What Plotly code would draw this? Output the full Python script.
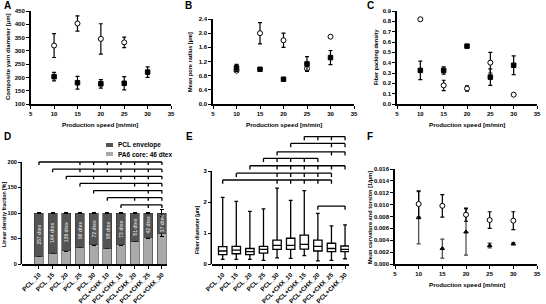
import plotly.graph_objects as go

W, H = 546, 304
FONT = "Liberation Sans, Arial, sans-serif"

speed = [10, 15, 20, 25, 30]
speed_ticks = [5, 10, 15, 20, 25, 30, 35]

# Panel A: composite yarn diameter [um]
a_open_x = [10, 15, 20, 25]
a_open = [320, 403, 345, 332]
a_open_err = [45, 29, 57, 20]
a_fill = [203, 180, 176, 178, 220]
a_fill_err = [16, 24, 16, 25, 20]

# Panel B: mean pore radius [um]
b_open = [0.94, 2.00, 1.80, 1.00, 1.90]
b_open_err = [0.0, 0.30, 0.20, 0.08, 0.0]
b_fill = [1.02, 0.98, 0.70, 1.13, 1.31]
b_fill_err = [0.10, 0.0, 0.0, 0.21, 0.20]

# Panel C: fiber packing density
c_open = [0.82, 0.18, 0.15, 0.40, 0.09]
c_open_err = [0.0, 0.05, 0.025, 0.10, 0.0]
c_fill = [0.325, 0.325, 0.56, 0.26, 0.375]
c_fill_err = [0.09, 0.035, 0.0, 0.08, 0.09]

# Panel D: linear density fraction [%]
groups = ["PCL_10", "PCL_15", "PCL_20", "PCL_25", "PCL_30",
          "PCL+CHX_10", "PCL+CHX_15", "PCL+CHX_20", "PCL+CHX_25", "PCL+CHX_30"]
d_core = [15, 21, 26, 33, 38, 31, 38, 45, 52, 60]
d_env = [85, 79, 74, 67, 62, 69, 62, 55, 48, 40]
d_core_err = [1, 1, 1, 1, 1, 1, 1, 1.5, 2, 6]
d_env_err = [1, 1, 1, 1, 1, 1, 1, 1, 1.5, 7]
d_dtex = ["257 dtex", "164 dtex", "126 dtex", "90 dtex", "72 dtex",
          "98 dtex", "73 dtex", "51 dtex", "42 dtex", "37 dtex"]
d_legend = ["PCL envelope", "PA6 core: 46 dtex"]
# significance brackets: (level, first group, groups marked)
d_brackets = [
    (200, 0, [3, 4, 5, 6, 7, 8, 9]),
    (186, 1, [3, 4, 5, 6, 7, 8, 9]),
    (172, 2, [4, 6, 7, 8, 9]),
    (158, 3, [7, 8, 9]),
    (144, 4, [8, 9]),
    (130, 5, [7, 8, 9]),
    (116, 6, [8, 9]),
]

# Panel E: fiber diameter box plots [um]
e_low = [0.15, 0.15, 0.15, 0.12, 0.20, 0.18, 0.27, 0.10, 0.12, 0.17]
e_q1 = [0.30, 0.33, 0.30, 0.35, 0.47, 0.47, 0.48, 0.42, 0.40, 0.40]
e_med = [0.42, 0.45, 0.40, 0.47, 0.60, 0.60, 0.63, 0.57, 0.50, 0.47]
e_q3 = [0.56, 0.57, 0.50, 0.57, 0.77, 0.83, 0.93, 0.77, 0.67, 0.58]
e_high = [2.15, 2.02, 1.70, 1.78, 2.45, 2.05, 2.37, 1.63, 1.23, 1.26]
e_brackets = [
    (4.11, 6, [7, 8, 9]),
    (3.89, 5, [8, 9]),
    (3.62, 4, [8, 9]),
    (3.41, 3, [4, 5, 6, 7]),
    (3.17, 2, [4, 5, 6, 7, 8, 9]),
    (2.93, 1, [4, 5, 6, 7, 8]),
    (2.71, 0, [4, 5, 6, 7, 8]),
    (1.87, 7, [9]),
]

# Panel F: mean curvature and torsion [1/um]
f_curv = [0.0101, 0.0098, 0.0083, 0.0074, 0.0073]
f_curv_err = [0.0022, 0.0019, 0.0011, 0.0014, 0.0015]
f_tors = [0.0078, 0.0026, 0.0054, 0.0031, 0.0034]
f_tors_err = [0.0044, 0.0016, 0.0039, 0.0004, 0.0002]


def px(x):
    return x / W


def py(y):
    return 1 - y / H


def scat(x, y, err, ax, symbol, fill, size=5, errcolor="black"):
    return go.Scatter(
        x=x, y=y, mode="markers", xaxis="x" + ax, yaxis="y" + ax,
        marker=dict(symbol=symbol, size=size, color=fill,
                    line=dict(color="black", width=1)),
        error_y=dict(type="data", array=err, visible=True, color=errcolor,
                     thickness=1.2, width=2),
        cliponaxis=False, showlegend=False)


fig = go.Figure()

# A
fig.add_trace(scat(a_open_x, a_open, a_open_err, "", "circle", "white"))
fig.add_trace(scat(speed, a_fill, a_fill_err, "", "square", "black", size=4.5))
# B
fig.add_trace(scat(speed, b_open, b_open_err, "2", "circle", "white"))
fig.add_trace(scat(speed, b_fill, b_fill_err, "2", "square", "black", size=4.5))
# C
fig.add_trace(scat(speed, c_open, c_open_err, "3", "circle", "white"))
fig.add_trace(scat(speed, c_fill, c_fill_err, "3", "square", "black", size=4.5))
# F
fig.add_trace(scat(speed, f_tors, f_tors_err, "6", "triangle-up", "black", size=4, errcolor="#444"))
fig.add_trace(scat(speed, f_curv, f_curv_err, "6", "circle", "white"))

# D bars
gx = list(range(len(groups)))
CORE_C, ENV_C = "#a9a9a9", "#545454"
fig.add_trace(go.Bar(
    x=gx, y=d_core, width=0.66, xaxis="x4", yaxis="y4",
    marker=dict(color=CORE_C, line=dict(color="#333", width=0.6)),
    error_y=dict(type="data", array=d_core_err, visible=True, color="black",
                 thickness=1, width=2), showlegend=False))
fig.add_trace(go.Bar(
    x=gx, y=d_env, width=0.66, xaxis="x4", yaxis="y4",
    marker=dict(color=ENV_C, line=dict(color="#333", width=0.6)),
    error_y=dict(type="data", array=d_env_err, visible=True, color="black",
                 thickness=1, width=2), showlegend=False))

# E boxes
fig.add_trace(go.Box(
    x=gx, q1=e_q1, median=e_med, q3=e_q3, lowerfence=e_low, upperfence=e_high,
    xaxis="x5", yaxis="y5", fillcolor="white",
    line=dict(color="black", width=1.3), width=0.62, whiskerwidth=0.45,
    boxpoints=False, showlegend=False))

# domains in pixels
dom = {
    "": ((30.7, 171), (11, 104)),
    "2": ((213, 354), (19, 104)),
    "3": ((397, 537), (11, 104)),
    "4": ((22, 167), (159.45, 264)),
    "5": ((212, 349), (132.25, 264)),
    "6": ((395, 537), (169, 264)),
}


def axis_base(**kw):
    d = dict(showline=True, linecolor="black", linewidth=1.5, ticks="outside",
             ticklen=3, tickwidth=1.2, tickcolor="black", showgrid=False,
             zeroline=False, automargin=False,
             tickfont=dict(size=6, family=FONT, color="black", weight="bold"))
    d.update(kw)
    return d


layout = dict(
    width=W, height=H, margin=dict(l=0, r=0, t=0, b=0),
    paper_bgcolor="white", plot_bgcolor="white", showlegend=False,
    barmode="stack", font=dict(family=FONT, size=6, color="black", weight="bold"),
)

rngs = {
    "": ((5, 35), (100, 450), list(range(100, 451, 50)), None),
    "2": ((5, 35), (0, 2.4), [0, 0.4, 0.8, 1.2, 1.6, 2.0, 2.4], ".1f"),
    "3": ((5, 35), (0, 0.9), [i / 10 for i in range(10)], ".1f"),
    "6": ((5, 35), (0, 0.016), [i * 0.002 for i in range(9)], ".3f"),
}
for k, (xr, yr, yt, fmt) in rngs.items():
    (x0, x1), (y0, y1) = dom[k]
    layout["xaxis" + k] = axis_base(domain=[px(x0), px(x1)], range=list(xr),
                                    tickvals=speed_ticks, anchor="y" + k)
    ya = axis_base(domain=[py(y1), py(y0)], range=list(yr), tickvals=yt,
                   anchor="x" + k)
    if fmt:
        ya["tickformat"] = fmt
    layout["yaxis" + k] = ya

# D axes
(x0, x1), (y0, y1) = dom["4"]
layout["xaxis4"] = axis_base(domain=[px(x0), px(x1)], range=[-1.24, 9.37],
                             tickvals=gx, ticktext=groups, tickangle=-45,
                             anchor="y4",
                             tickfont=dict(size=6.3, family=FONT, color="black", weight="bold"))
layout["yaxis4"] = axis_base(domain=[py(y1), py(y0)], range=[0, 205],
                             tickvals=[0, 50, 100, 150, 200], anchor="x4",
                             showline=False,
                             tickfont=dict(size=5.6, family=FONT, color="black", weight="bold"))
# E axes
(x0, x1), (y0, y1) = dom["5"]
layout["xaxis5"] = axis_base(domain=[px(x0), px(x1)], range=[-0.787, 9.29],
                             tickvals=gx, ticktext=groups, tickangle=-45,
                             anchor="y5",
                             tickfont=dict(size=6.3, family=FONT, color="black", weight="bold"))
layout["yaxis5"] = axis_base(domain=[py(y1), py(y0)], range=[0, 4.25],
                             tickvals=[0, 1, 2, 3], anchor="x5", showline=False)

shapes = []
# manual y-axis lines for D and E
shapes.append(dict(type="line", xref="paper", yref="y4", x0=px(22) - 0.75 / W,
                   x1=px(22) - 0.75 / W, y0=0, y1=200,
                   line=dict(color="black", width=1.5)))
shapes.append(dict(type="line", xref="paper", yref="y5", x0=px(212) - 0.75 / W,
                   x1=px(212) - 0.75 / W, y0=0, y1=3,
                   line=dict(color="black", width=1.5)))


def brackets(lst, ax, drop):
    out = []
    for lvl, start, marks in lst:
        end = max(marks)
        ln = dict(color="black", width=1.3)
        out.append(dict(type="line", xref="x" + ax, yref="y" + ax,
                        x0=start, x1=end, y0=lvl, y1=lvl, line=ln))
        for m in [start] + marks:
            out.append(dict(type="line", xref="x" + ax, yref="y" + ax,
                            x0=m, x1=m, y0=lvl, y1=lvl - drop, line=ln))
    return out


shapes += brackets(d_brackets, "4", 6)
shapes += brackets(e_brackets, "5", 0.12)

# D legend swatches
shapes.append(dict(type="rect", xref="paper", yref="paper", x0=px(106), x1=px(113),
                   y0=py(147), y1=py(143), fillcolor=ENV_C, line=dict(width=0)))
shapes.append(dict(type="rect", xref="paper", yref="paper", x0=px(106), x1=px(113),
                   y0=py(156), y1=py(152), fillcolor=CORE_C, line=dict(width=0)))
layout["shapes"] = shapes


def ann(text, x, y, size, angle=0, xanchor="center", color="black", **kw):
    d = dict(text=text, x=px(x), y=py(y), xref="paper", yref="paper",
             showarrow=False, textangle=angle, xanchor=xanchor, yanchor="middle",
             font=dict(size=size, family=FONT, color=color, weight="bold"))
    d.update(kw)
    return d


anns = [
    ann("A", 2, 5.5, 10, xanchor="left"),
    ann("B", 183, 5.5, 10, xanchor="left"),
    ann("C", 365, 5.5, 10, xanchor="left"),
    ann("D", 2, 136, 10, xanchor="left"),
    ann("E", 184, 136, 10, xanchor="left"),
    ann("F", 365, 136.5, 10, xanchor="left"),
    ann("Production speed [m/min]", 100, 124, 6.2),
    ann("Production speed [m/min]", 284, 124, 6.2),
    ann("Production speed [m/min]", 467, 125, 6.2),
    ann("Production speed [m/min]", 467, 284, 6.2),
    ann("Composite yarn diameter [µm]", 8, 57, 6.0, angle=-90),
    ann("Mean pore radius [µm]", 190, 62, 5.6, angle=-90),
    ann("Fiber packing density", 376, 58, 5.4, angle=-90),
    ann("Linear density fraction [%]", 4, 215, 5.2, angle=-90),
    ann("Fiber diameter [µm]", 197, 230, 5.2, angle=-90),
    ann("Mean curvature and torsion [1/µm]", 370, 218, 5.7, angle=-90),
    ann(d_legend[0], 116, 145, 6.5, xanchor="left"),
    ann(d_legend[1], 116, 154, 6.5, xanchor="left"),
]
# dtex labels inside envelope segments
for i, (c, e, t) in enumerate(zip(d_core, d_env, d_dtex)):
    anns.append(dict(text=t, x=i, y=c + e / 2, xref="x4", yref="y4",
                     showarrow=False, textangle=-90,
                     font=dict(size=5, family=FONT, color="#cfcfcf", weight="bold")))
layout["annotations"] = anns

fig.update_layout(**layout)
fig.write_html("out.html")
